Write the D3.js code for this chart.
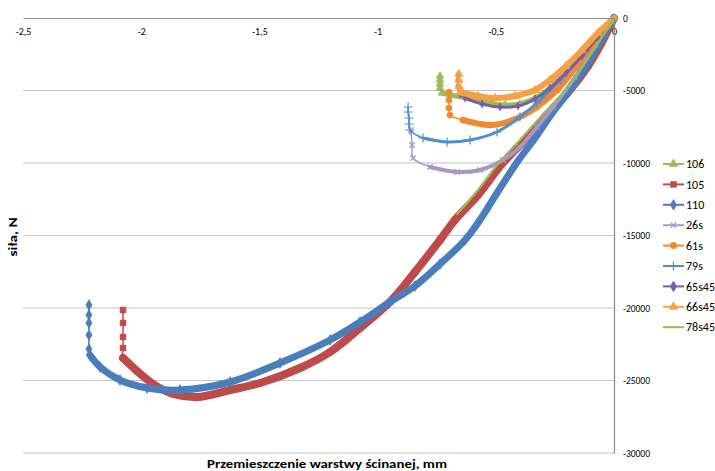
<!DOCTYPE html>
<html>
<head>
<meta charset="utf-8">
<script src="https://cdn.jsdelivr.net/npm/d3@7"></script>
<style>
  body { margin: 0; background: #fff; }
  svg text { font-family: Carlito, "Open Sans", "Noto Sans", sans-serif; fill: #000; }
</style>
</head>
<body>
<svg id="chart" width="715" height="471"></svg>
<script>
// tick values
const xTicks = [-2.5, -2, -1.5, -1, -0.5, 0];
const yTicks = [0, -5000, -10000, -15000, -20000, -25000, -30000];

// series, [displacement mm, force N]
const s106 = [[0,0],[-0.072,-1380],[-0.144,-2690],[-0.207,-3790],[-0.271,-4830],[-0.334,-5520],[-0.398,-5930],[-0.460,-6000],[-0.530,-5860],[-0.600,-5590],[-0.690,-5310],[-0.728,-5170],[-0.736,-4830],[-0.736,-4550],[-0.736,-4280],[-0.736,-4000]];
const s105 = [[0,0],[-0.051,-1655],[-0.110,-3310],[-0.186,-4966],[-0.271,-6483],[-0.368,-8276],[-0.474,-10069],[-0.575,-12207],[-0.673,-13931],[-0.736,-15310],[-0.842,-17517],[-0.948,-19586],[-1.074,-21379],[-1.201,-23034],[-1.328,-24138],[-1.497,-25172],[-1.624,-25655],[-1.764,-26138],[-1.865,-25931],[-1.950,-25241],[-2.018,-24345],[-2.077,-23448],[-2.077,-22759],[-2.077,-22000],[-2.077,-21034],[-2.077,-20138]];
const s110 = [[0,0],[-0.059,-1655],[-0.118,-3310],[-0.186,-4966],[-0.258,-6483],[-0.334,-8276],[-0.415,-10069],[-0.495,-12069],[-0.567,-13931],[-0.630,-15310],[-0.736,-16966],[-0.842,-18483],[-0.948,-19586],[-1.074,-20966],[-1.201,-22207],[-1.413,-23793],[-1.624,-25103],[-1.836,-25655],[-1.975,-25517],[-2.090,-24966],[-2.174,-24069],[-2.217,-23241],[-2.221,-22828],[-2.221,-21862],[-2.221,-21034],[-2.221,-20483],[-2.221,-19793]];
const s26s = [[0,0],[-0.080,-1862],[-0.165,-4069],[-0.258,-6138],[-0.326,-7517],[-0.398,-8897],[-0.470,-9793],[-0.567,-10483],[-0.664,-10621],[-0.778,-10276],[-0.850,-9655],[-0.854,-8759],[-0.859,-7724]];
const s61s = [[0,0],[-0.080,-1655],[-0.165,-3448],[-0.241,-4966],[-0.326,-6138],[-0.427,-7034],[-0.525,-7379],[-0.639,-7034],[-0.694,-6690],[-0.698,-6207],[-0.698,-5655],[-0.698,-5103]];
const s79s = [[0,0],[-0.123,-2345],[-0.228,-4276],[-0.326,-5862],[-0.398,-6828],[-0.495,-7862],[-0.609,-8414],[-0.706,-8552],[-0.808,-8276],[-0.863,-7724],[-0.867,-7310],[-0.867,-6897],[-0.871,-6483],[-0.871,-6138]];
const s65s45 = [[0,0],[-0.068,-1300],[-0.135,-2620],[-0.203,-3790],[-0.271,-4830],[-0.334,-5590],[-0.406,-6070],[-0.482,-6140],[-0.558,-5930],[-0.630,-5520],[-0.651,-5240],[-0.660,-4690],[-0.660,-4276],[-0.660,-3931]];
const s66s45 = [[0,0],[-0.068,-1034],[-0.135,-2207],[-0.203,-3310],[-0.271,-4276],[-0.334,-4966],[-0.419,-5380],[-0.503,-5520],[-0.575,-5380],[-0.639,-5170],[-0.651,-5103],[-0.656,-4690],[-0.656,-4276],[-0.656,-3862]];
const s78s45 = [[0,0],[-0.059,-1517],[-0.123,-3103],[-0.199,-4828],[-0.292,-6483],[-0.398,-8414],[-0.495,-10138],[-0.575,-11862],[-0.664,-13517]];

const series = [
  { name: "106",   data: s106,   color: "#9bbb59", marker: "triangle", band: 5, drop: 4, ms: 3.2 },
  { name: "105",   data: s105,   color: "#be4b48", marker: "square",   band: 8, drop: 4, ms: 3.6 },
  { name: "110",   data: s110,   color: "#4a7ebb", marker: "diamond",  band: 7, drop: 5, ms: 3.6 },
  { name: "26s",   data: s26s,   color: "#a898c6", marker: "x",        band: 4, drop: 3, ms: 3.4 },
  { name: "61s",   data: s61s,   color: "#f08a30", marker: "circle",   band: 6, drop: 4, ms: 3.4 },
  { name: "79s",   data: s79s,   color: "#4f8fd0", marker: "plus",     band: 3, drop: 5, ms: 4.5 },
  { name: "65s45", data: s65s45, color: "#7a5da6", marker: "diamond",  band: 3, drop: 4, ms: 2.6 },
  { name: "66s45", data: s66s45, color: "#f7a044", marker: "triangle", band: 6, drop: 4, ms: 3.4 },
  { name: "78s45", data: s78s45, color: "#9bbb59", marker: null,       band: 2, drop: 0, ms: 0 }
];

const svg = d3.select("#chart");
const x = d3.scaleLinear().domain([-2.5, 0]).range([23, 614]);
const y = d3.scaleLinear().domain([0, -30000]).range([18, 453]);

const pl = d3.formatLocale({ decimal: ",", thousands: "", grouping: [3], currency: ["", ""], minus: "-" });

// gridlines
svg.append("g").selectAll("line")
  .data(yTicks.filter(d => d !== 0))
  .enter().append("line")
  .attr("x1", x(-2.5)).attr("x2", x(0))
  .attr("y1", d => y(d)).attr("y2", d => y(d))
  .attr("stroke", "#c4c4c4").attr("stroke-width", 1);

function markerPath(type, s) {
  if (type === "plus") return `M${-s},0H${s}M0,${-s}V${s}`;
  if (type === "x") return `M${-s*0.8},${-s*0.8}L${s*0.8},${s*0.8}M${-s*0.8},${s*0.8}L${s*0.8},${-s*0.8}`;
  const sym = { triangle: d3.symbolTriangle, square: d3.symbolSquare, diamond: d3.symbolDiamond, circle: d3.symbolCircle }[type];
  return d3.symbol().type(sym).size(s * s * 2.6)();
}

function drawMarker(g, type, color, cx, cy, s) {
  const stroked = type === "plus" || type === "x";
  g.append("path")
    .attr("d", markerPath(type, s))
    .attr("transform", `translate(${cx},${cy})`)
    .attr("fill", stroked ? "none" : color)
    .attr("stroke", color)
    .attr("stroke-width", stroked ? 1.2 : 0.6);
}

const line = d3.line().x(d => x(d[0])).y(d => y(d[1])).curve(d3.curveCatmullRom.alpha(0.5));

// series
series.forEach(s => {
  const g = svg.append("g");
  const dense = s.data.slice(0, s.data.length - s.drop);
  g.append("path").attr("d", line(dense))
    .attr("fill", "none").attr("stroke", s.color)
    .attr("stroke-width", s.band).attr("stroke-linejoin", "round").attr("stroke-linecap", "round");
  g.append("path").attr("d", line(s.data))
    .attr("fill", "none").attr("stroke", s.color).attr("stroke-width", 1.5);
  if (s.marker) {
    s.data.forEach((d, i) => {
      if (i === 0) return;
      drawMarker(g, s.marker, s.color, x(d[0]), y(d[1]), s.ms);
    });
  }
});

// x axis (crosses at y = 0, labels below the line)
const xAxis = svg.append("g")
  .attr("transform", `translate(0,${y(0)})`)
  .call(d3.axisBottom(x).tickValues(xTicks).tickSize(0).tickPadding(10).tickFormat(pl.format("~g")));
xAxis.select(".domain").attr("stroke", "#8a8a8a").attr("stroke-width", 1.2);
xAxis.selectAll("text").style("font-size", "10px").attr("fill", "#000");

// y axis (crosses at x = 0)
const yAxis = svg.append("g")
  .attr("transform", `translate(${x(0)},0)`)
  .call(d3.axisRight(y).tickValues(yTicks).tickSize(0).tickPadding(9).tickFormat(pl.format("d")));
yAxis.select(".domain").attr("stroke", "#8a8a8a").attr("stroke-width", 1.2);
yAxis.selectAll("text").style("font-size", "9.5px").attr("fill", "#000");

// axis titles
svg.append("text")
  .attr("x", 327).attr("y", 468)
  .attr("text-anchor", "middle")
  .attr("textLength", 240).attr("lengthAdjust", "spacingAndGlyphs")
  .style("font-size", "12.5px").style("font-weight", "bold")
  .text("Przemieszczenie warstwy ścinanej, mm");

svg.append("text")
  .attr("transform", "translate(17,237) rotate(-90)")
  .attr("text-anchor", "middle")
  .attr("textLength", 39).attr("lengthAdjust", "spacingAndGlyphs")
  .style("font-size", "11px").style("font-weight", "bold")
  .text("siła, N");

// legend
const legend = svg.append("g");
series.forEach((s, i) => {
  const ly = 164 + i * 20.4;
  const g = legend.append("g");
  g.append("line").attr("x1", 663).attr("x2", 684).attr("y1", ly).attr("y2", ly)
    .attr("stroke", s.color).attr("stroke-width", 2);
  if (s.marker) drawMarker(g, s.marker, s.color, 673.5, ly, s.marker === "plus" ? 4.5 : 3.6);
  g.append("text").attr("x", 686).attr("y", ly).attr("dy", "0.35em")
    .style("font-size", "12px").attr("fill", "#333").text(s.name);
});
</script>
</body>
</html>
